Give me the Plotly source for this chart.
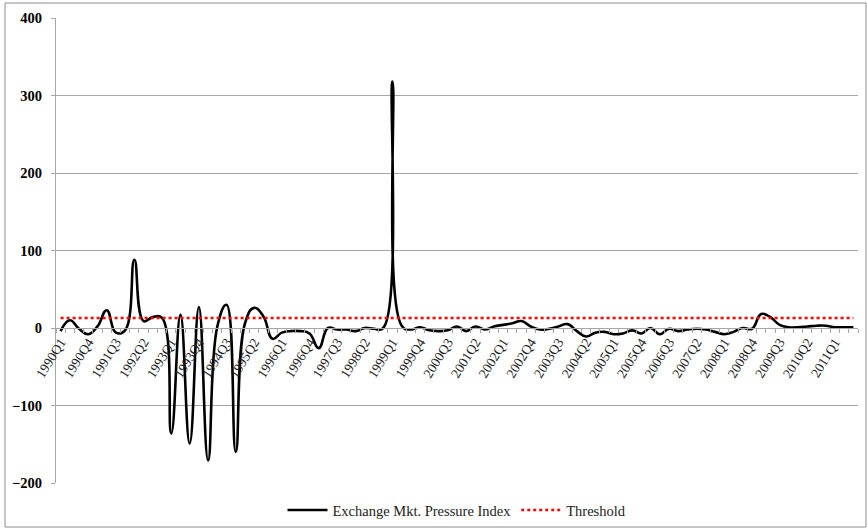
import plotly.graph_objects as go

years = list(range(1990, 2012))
quarters = [f"{y}Q{q}" for y in years for q in range(1, 5)][:87]  # 1990Q1 .. 2011Q3

empi = [-4, 10, -1, -8, 2, 23, -6, -3, 88, 9,
        14, 13, -136, 17, -149, 27, -171, 2, 30, -160,
        6, 26, 15, -14, -6, -4, -4, -7, -26, 0,
        -2, -2, -4, 0, -1, 0, 318, 3, -2, 1,
        -3, -4, -3, 2, -4, 2, -2, 2, 4, 6,
        9, 2, -2, -1, 2, 5, -4, -11, -6, -5,
        -8, -7, -3, -7, 0, -8, -1, -4, -2, -1,
        -2, -5, -8, -5, 0, -1, 18, 14, 4, 1,
        1, 2, 3, 3, 1, 1, 1]
threshold_value = 13
threshold = [threshold_value] * len(quarters)

y_ticks = [-200, -100, 0, 100, 200, 300, 400]

W, H = 867, 528
L, R, T, B = 56, 9, 18, 45
pw, ph = W - L - R, H - T - B

def px_x(x):
    return (x - L) / pw

def px_y(y):
    return (H - B - y) / ph

ticktext = [q if i % 3 == 0 else "" for i, q in enumerate(quarters)]

fig = go.Figure()
fig.add_trace(go.Scatter(
    x=quarters, y=empi, mode="lines", name="Exchange Mkt. Pressure Index",
    line=dict(color="black", width=2.6, shape="spline", smoothing=1.3),
))
fig.add_trace(go.Scatter(
    x=quarters, y=threshold, mode="lines", name="Threshold",
    line=dict(color="#ff0000", width=2.6, dash="dot"),
))

fig.update_layout(
    width=W, height=H,
    margin=dict(l=L, r=R, t=T, b=B, autoexpand=False),
    paper_bgcolor="white", plot_bgcolor="white",
    font=dict(family="Liberation Serif", color="black"),
    showlegend=True,
    legend=dict(orientation="h", x=0.5, xanchor="center", y=px_y(510), yanchor="middle",
                font=dict(family="Liberation Serif", size=14.5, color="#222222"),
                itemwidth=40, bgcolor="rgba(0,0,0,0)"),
    xaxis=dict(
        type="category", range=[-0.5, len(quarters) - 0.5],
        anchor="free", position=(0 - y_ticks[0]) / (y_ticks[-1] - y_ticks[0]),
        automargin=False,
        showline=True, linecolor="#a6a6a6", linewidth=1,
        showgrid=False, zeroline=False,
        tickmode="array", tickvals=quarters, ticktext=ticktext,
        tickson="boundaries", ticks="outside", ticklen=4, tickcolor="#a6a6a6",
        tickangle=-58,
        tickfont=dict(family="Liberation Serif", size=13.5, color="#222222"),
    ),
    yaxis=dict(
        range=[y_ticks[0], y_ticks[-1]], tickvals=y_ticks,
        automargin=False,
        showline=True, linecolor="#a6a6a6", linewidth=1,
        showgrid=True, gridcolor="#a6a6a6", gridwidth=1,
        zeroline=False,
        ticks="outside", ticklen=4, tickcolor="#a6a6a6",
        ticklabelstandoff=6,
        tickfont=dict(family="Liberation Serif", size=14.5, color="black", weight="bold"),
    ),
    shapes=[dict(type="rect", xref="paper", yref="paper",
                 x0=px_x(5), x1=px_x(866), y0=px_y(527), y1=px_y(3),
                 line=dict(color="#8c8c8c", width=1), layer="below")],
)

fig.write_html("out.html", config={"displayModeBar": False},
               post_script="document.body.style.margin='0px';")
